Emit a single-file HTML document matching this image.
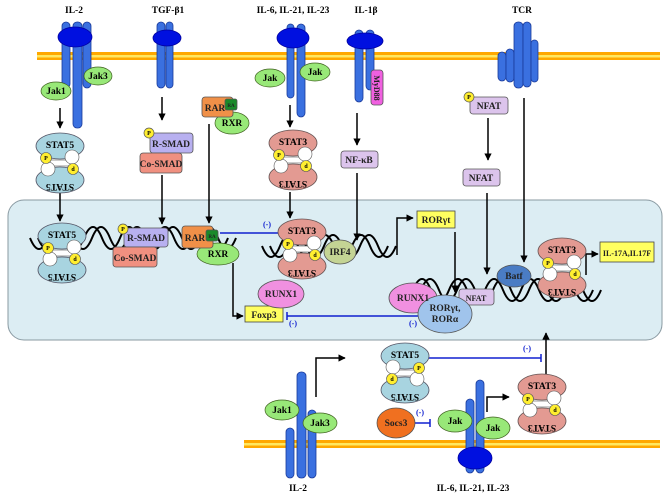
<!DOCTYPE html>
<html><head><meta charset="utf-8"><style>
html,body{margin:0;padding:0;background:#fff}
svg{display:block;font-family:"Liberation Serif",serif;font-weight:bold}
</style></head><body>
<svg width="672" height="498" viewBox="0 0 672 498" xmlns="http://www.w3.org/2000/svg">
<defs>
<marker id="ar" viewBox="0 0 10 10" refX="9" refY="5" markerWidth="5" markerHeight="5" orient="auto"><path d="M0 0L10 5L0 10z" fill="#000"/></marker>
</defs>
<!-- nucleus -->
<rect x="8" y="200" width="654" height="140" rx="16" fill="#dcedf3" stroke="#8a9aa2" stroke-width="1"/>
<!-- membranes -->
<rect x="37" y="52" width="623" height="8" fill="#ffa800"/><rect x="37" y="55" width="623" height="2.5" fill="#ffe860"/>
<rect x="244" y="440" width="416" height="8" fill="#ffa800"/><rect x="244" y="443" width="416" height="2.5" fill="#ffe860"/>

<g font-size="9.5" text-anchor="middle">
<text x="74" y="13">IL-2</text><text x="168" y="13">TGF-β1</text><text x="293" y="13">IL-6, IL-21, IL-23</text><text x="366" y="13">IL-1β</text><text x="522" y="13">TCR</text>
<text x="298" y="491">IL-2</text><text x="473" y="491">IL-6, IL-21, IL-23</text>
</g>

<g fill="#3a70e0" stroke="#1a3a9a" stroke-width="0.8">
<rect x="62" y="22" width="8" height="66" rx="4"/><rect x="73" y="22" width="9" height="106" rx="4"/><rect x="83" y="22" width="8" height="66" rx="4"/>
<rect x="157" y="22" width="8" height="66" rx="4"/><rect x="166" y="22" width="7" height="66" rx="3.5"/>
<rect x="287" y="24" width="7" height="74" rx="3.5"/><rect x="297" y="24" width="8" height="93" rx="4"/>
<rect x="355" y="30" width="8" height="72" rx="4"/><rect x="366" y="30" width="8" height="60" rx="4"/>
<rect x="498" y="52" width="8" height="29" rx="4"/><rect x="506" y="49" width="8" height="33" rx="4"/><rect x="514" y="22" width="9" height="66" rx="4"/><rect x="523" y="22" width="8" height="65" rx="4"/><rect x="531" y="40" width="7" height="42" rx="3.5"/>
<rect x="286" y="428" width="8" height="50" rx="4"/><rect x="297" y="372" width="9" height="106" rx="4"/><rect x="308" y="410" width="8" height="68" rx="4"/>
<rect x="466" y="399" width="8" height="74" rx="4"/><rect x="476" y="380" width="8" height="93" rx="4"/>
</g>
<g fill="#0010e0" stroke="#0000a0" stroke-width="0.8">
<ellipse cx="75" cy="37" rx="17" ry="10"/><ellipse cx="167" cy="38" rx="14" ry="8"/><ellipse cx="293" cy="38" rx="16" ry="10"/><ellipse cx="365" cy="41" rx="18" ry="8"/><ellipse cx="475" cy="458" rx="17" ry="11"/>
</g>

<!-- DNA -->
<g stroke="#000" stroke-width="2" fill="none">
<path d="M30 238q9 22 18 0t18 0t18 0t18 0t18 0t18 0t18 0t18 0t18 0t18 0t18 0"/>
<path d="M38 238q9 22 18 0t18 0t18 0t18 0t18 0t18 0t18 0t18 0t18 0t18 0t18 0"/>
<path d="M262 246q9 22 18 0t18 0t18 0t18 0t18 0t18 0t18 0"/>
<path d="M270 246q9 22 18 0t18 0t18 0t18 0t18 0t18 0t18 0"/>
<path d="M395 290q9 22 18 0t18 0t18 0t18 0t18 0t18 0t18 0t18 0t18 0t18 0t18 0"/>
<path d="M403 290q9 22 18 0t18 0t18 0t18 0t18 0t18 0t18 0t18 0t18 0t18 0t18 0"/>
</g>

<g font-size="9" text-anchor="middle" stroke="#406020" stroke-width="0.7">
<ellipse cx="98" cy="76" rx="14" ry="9" fill="#98e878"/><ellipse cx="56" cy="91" rx="15" ry="9" fill="#98e878"/>
<ellipse cx="270" cy="78" rx="15" ry="9" fill="#98e878"/><ellipse cx="315" cy="72" rx="15" ry="9" fill="#98e878"/>
<ellipse cx="232" cy="123" rx="17" ry="11" fill="#98e878"/>
<ellipse cx="218" cy="254" rx="21" ry="11" fill="#98e878"/>
<ellipse cx="282" cy="410" rx="17" ry="10" fill="#98e878"/><ellipse cx="320" cy="423" rx="17" ry="10" fill="#98e878"/>
<ellipse cx="455" cy="421" rx="17" ry="11" fill="#98e878"/><ellipse cx="493" cy="428" rx="17" ry="11" fill="#98e878"/>
</g>
<g font-size="9.5" text-anchor="middle">
<text x="98" y="79">Jak3</text><text x="56" y="94">Jak1</text><text x="270" y="81">Jak</text><text x="315" y="75">Jak</text>
<text x="232" y="126">RXR</text><text x="218" y="257">RXR</text>
<text x="282" y="413">Jak1</text><text x="320" y="426">Jak3</text><text x="455" y="424">Jak</text><text x="493" y="431">Jak</text>
</g>

<g stroke="#000" stroke-width="1.5" fill="none" marker-end="url(#ar)">
<path d="M60 108V128"/><path d="M162 97V120"/><path d="M290 105V127"/><path d="M357 113V145"/><path d="M488 118V160"/>
<path d="M60 192V221"/><path d="M162 175V224"/><path d="M209 124V223"/><path d="M290 192V218"/><path d="M357 173V240"/>
<path d="M524 98V262"/><path d="M487 193V274"/>
<path d="M233 263V316H243"/><path d="M397 255V218H413"/><path d="M455 232V292"/><path d="M586 275V254H598"/>
<path d="M316 397V358H345"/><path d="M546 385V333"/><path d="M487 412V397H509"/>
</g>
<g stroke="#1020d0" stroke-width="1.5" fill="none">
<path d="M220 233H280M280 229V237"/>
<path d="M420 316H287M287 312V320"/>
<path d="M400 358H541M541 354V362"/>
<path d="M412 423H430M430 419V427"/>
</g>
<g fill="#1020d0" font-size="8" text-anchor="middle">
<text x="267" y="227">(-)</text><text x="293" y="326">(-)</text><text x="413" y="326">(-)</text><text x="527" y="351">(-)</text><text x="420" y="415">(-)</text>
</g>

<g stroke="#555" stroke-width="0.8" font-size="9" text-anchor="middle">
<rect x="150" y="133" width="43" height="20" rx="3" fill="#b8b0f0"/>
<rect x="140" y="153" width="42" height="20" rx="3" fill="#f09080"/>
<rect x="202" y="97" width="31" height="20" rx="3" fill="#f09048"/>
<rect x="225" y="99" width="12" height="11" rx="2" fill="#1a8a2a"/>
<rect x="124" y="228" width="44" height="19" rx="3" fill="#b8b0f0"/>
<rect x="113" y="247" width="44" height="20" rx="3" fill="#f09080"/>
<rect x="182" y="226" width="31" height="22" rx="3" fill="#f09048"/>
<rect x="206" y="230" width="12" height="11" rx="2" fill="#1a8a2a"/>
<rect x="371" y="70" width="12" height="35" rx="3" fill="#f060e0"/>
<rect x="341" y="151" width="37" height="17" rx="3" fill="#dcc4ec"/>
<rect x="470" y="97" width="38" height="17" rx="3" fill="#dcc4ec"/>
<rect x="463" y="169" width="37" height="17" rx="3" fill="#dcc4ec"/>
<rect x="459" y="289" width="35" height="16" rx="3" fill="#dcc4ec"/>
<rect x="245" y="306" width="38" height="16" fill="#ffff60" stroke="#444"/>
<rect x="417" y="211" width="38" height="17" fill="#ffff60" stroke="#444"/>
<rect x="600" y="242" width="54" height="20" fill="#ffff60" stroke="#444"/>
<ellipse cx="281" cy="294" rx="23" ry="14" fill="#f090e0"/>
<ellipse cx="413" cy="298" rx="24" ry="15" fill="#f090e0"/>
<ellipse cx="445" cy="314" rx="27" ry="19" fill="#a0c4ec"/>
<ellipse cx="514" cy="276" rx="17" ry="11" fill="#4a7cc4"/>
<ellipse cx="340" cy="252" rx="16" ry="12" fill="#c4d494"/>
<ellipse cx="396" cy="423" rx="19" ry="15" fill="#f07020"/>
</g>
<g font-size="9.5" text-anchor="middle" fill="#222">
<text x="171" y="147">R-SMAD</text><text x="161" y="167">Co-SMAD</text><text x="215" y="111">RAR</text><text x="231" y="107" font-size="5">RA</text>
<text x="146" y="241">R-SMAD</text><text x="135" y="261">Co-SMAD</text><text x="195" y="241">RAR</text><text x="212" y="238" font-size="5">RA</text>
<text x="377" y="88" transform="rotate(90 377 88)" font-size="8" dy="3">MyD88</text>
<text x="359" y="163">NF-κB</text><text x="489" y="109">NFAT</text><text x="481" y="181">NFAT</text><text x="476" y="301" font-size="8">NFAT</text>
<text x="264" y="318">Foxp3</text><text x="436" y="223">RORγt</text><text x="627" y="256" font-size="8">IL-17A,IL17F</text>
<text x="281" y="297">RUNX1</text><text x="413" y="301">RUNX1</text>
<text x="445" y="311">RORγt,</text><text x="445" y="322">RORα</text>
<text x="514" y="279">Batf</text><text x="340" y="255">IRF4</text><text x="396" y="426">Socs3</text>
</g>
<g stroke="#555" stroke-width="0.7" fill="#ffee30">
<circle cx="149" cy="133" r="5"/><circle cx="123" cy="229" r="5"/><circle cx="469" cy="97" r="5"/>
</g>
<g font-size="6" text-anchor="middle"><text x="149" y="135">P</text><text x="123" y="231">P</text><text x="469" y="99">P</text></g>

<g transform="translate(60 163)">
<ellipse cx="0" cy="-17" rx="24" ry="13" fill="#a8d4e0" stroke="#556" stroke-width="0.8"/>
<ellipse cx="0" cy="17" rx="24" ry="13" fill="#a8d4e0" stroke="#556" stroke-width="0.8"/>
<rect x="-12" y="-3" width="24" height="6" fill="#fff" stroke="#555" stroke-width="0.6"/>
<circle cx="12" cy="-6" r="7" fill="#fff" stroke="#555" stroke-width="0.6"/><circle cx="-12" cy="6" r="7" fill="#fff" stroke="#555" stroke-width="0.6"/>
<circle cx="-14" cy="-5" r="5.5" fill="#ffee30" stroke="#555" stroke-width="0.6"/><circle cx="13" cy="6" r="5.5" fill="#ffee30" stroke="#555" stroke-width="0.6"/>
<text x="-14" y="-3" font-size="6" text-anchor="middle">P</text><text x="13" y="8" font-size="6" text-anchor="middle">d</text>
<text x="0" y="-15" font-size="9.5" text-anchor="middle">STAT5</text><text x="0" y="15" font-size="9.5" text-anchor="middle" transform="rotate(180 0 18)">STAT5</text>
</g>
<g transform="translate(62 253)">
<ellipse cx="0" cy="-17" rx="24" ry="13" fill="#a8d4e0" stroke="#556" stroke-width="0.8"/>
<ellipse cx="0" cy="17" rx="24" ry="13" fill="#a8d4e0" stroke="#556" stroke-width="0.8"/>
<rect x="-12" y="-3" width="24" height="6" fill="#fff" stroke="#555" stroke-width="0.6"/>
<circle cx="12" cy="-6" r="7" fill="#fff" stroke="#555" stroke-width="0.6"/><circle cx="-12" cy="6" r="7" fill="#fff" stroke="#555" stroke-width="0.6"/>
<circle cx="-14" cy="-5" r="5.5" fill="#ffee30" stroke="#555" stroke-width="0.6"/><circle cx="13" cy="6" r="5.5" fill="#ffee30" stroke="#555" stroke-width="0.6"/>
<text x="-14" y="-3" font-size="6" text-anchor="middle">P</text><text x="13" y="8" font-size="6" text-anchor="middle">d</text>
<text x="0" y="-15" font-size="9.5" text-anchor="middle">STAT5</text><text x="0" y="15" font-size="9.5" text-anchor="middle" transform="rotate(180 0 18)">STAT5</text>
</g>
<g transform="translate(293 160)">
<ellipse cx="0" cy="-17" rx="24" ry="13" fill="#e39a92" stroke="#655" stroke-width="0.8"/>
<ellipse cx="0" cy="17" rx="24" ry="13" fill="#e39a92" stroke="#655" stroke-width="0.8"/>
<rect x="-12" y="-3" width="24" height="6" fill="#fff" stroke="#555" stroke-width="0.6"/>
<circle cx="12" cy="-6" r="7" fill="#fff" stroke="#555" stroke-width="0.6"/><circle cx="-12" cy="6" r="7" fill="#fff" stroke="#555" stroke-width="0.6"/>
<circle cx="-14" cy="-5" r="5.5" fill="#ffee30" stroke="#555" stroke-width="0.6"/><circle cx="13" cy="6" r="5.5" fill="#ffee30" stroke="#555" stroke-width="0.6"/>
<text x="-14" y="-3" font-size="6" text-anchor="middle">P</text><text x="13" y="8" font-size="6" text-anchor="middle">d</text>
<text x="0" y="-15" font-size="9.5" text-anchor="middle">STAT3</text><text x="0" y="15" font-size="9.5" text-anchor="middle" transform="rotate(180 0 18)">STAT3</text>
</g>
<g transform="translate(302 249)">
<ellipse cx="0" cy="-17" rx="24" ry="13" fill="#e39a92" stroke="#655" stroke-width="0.8"/>
<ellipse cx="0" cy="17" rx="24" ry="13" fill="#e39a92" stroke="#655" stroke-width="0.8"/>
<rect x="-12" y="-3" width="24" height="6" fill="#fff" stroke="#555" stroke-width="0.6"/>
<circle cx="12" cy="-6" r="7" fill="#fff" stroke="#555" stroke-width="0.6"/><circle cx="-12" cy="6" r="7" fill="#fff" stroke="#555" stroke-width="0.6"/>
<circle cx="-14" cy="-5" r="5.5" fill="#ffee30" stroke="#555" stroke-width="0.6"/><circle cx="13" cy="6" r="5.5" fill="#ffee30" stroke="#555" stroke-width="0.6"/>
<text x="-14" y="-3" font-size="6" text-anchor="middle">P</text><text x="13" y="8" font-size="6" text-anchor="middle">d</text>
<text x="0" y="-15" font-size="9.5" text-anchor="middle">STAT3</text><text x="0" y="15" font-size="9.5" text-anchor="middle" transform="rotate(180 0 18)">STAT3</text>
</g>
<g transform="translate(562 268)">
<ellipse cx="0" cy="-17" rx="24" ry="13" fill="#e39a92" stroke="#655" stroke-width="0.8"/>
<ellipse cx="0" cy="17" rx="24" ry="13" fill="#e39a92" stroke="#655" stroke-width="0.8"/>
<rect x="-12" y="-3" width="24" height="6" fill="#fff" stroke="#555" stroke-width="0.6"/>
<circle cx="12" cy="-6" r="7" fill="#fff" stroke="#555" stroke-width="0.6"/><circle cx="-12" cy="6" r="7" fill="#fff" stroke="#555" stroke-width="0.6"/>
<circle cx="-14" cy="-5" r="5.5" fill="#ffee30" stroke="#555" stroke-width="0.6"/><circle cx="13" cy="6" r="5.5" fill="#ffee30" stroke="#555" stroke-width="0.6"/>
<text x="-14" y="-3" font-size="6" text-anchor="middle">P</text><text x="13" y="8" font-size="6" text-anchor="middle">d</text>
<text x="0" y="-15" font-size="9.5" text-anchor="middle">STAT3</text><text x="0" y="15" font-size="9.5" text-anchor="middle" transform="rotate(180 0 18)">STAT3</text>
</g>
<g transform="translate(405 373)">
<ellipse cx="0" cy="-17" rx="24" ry="13" fill="#a8d4e0" stroke="#556" stroke-width="0.8"/>
<ellipse cx="0" cy="17" rx="24" ry="13" fill="#a8d4e0" stroke="#556" stroke-width="0.8"/>
<rect x="-12" y="-3" width="24" height="6" fill="#fff" stroke="#555" stroke-width="0.6"/>
<circle cx="-12" cy="-6" r="7" fill="#fff" stroke="#555" stroke-width="0.6"/><circle cx="12" cy="6" r="7" fill="#fff" stroke="#555" stroke-width="0.6"/>
<circle cx="14" cy="-5" r="5.5" fill="#ffee30" stroke="#555" stroke-width="0.6"/><circle cx="-13" cy="6" r="5.5" fill="#ffee30" stroke="#555" stroke-width="0.6"/>
<text x="14" y="-3" font-size="6" text-anchor="middle">P</text><text x="-13" y="8" font-size="6" text-anchor="middle">d</text>
<text x="0" y="-15" font-size="9.5" text-anchor="middle">STAT5</text><text x="0" y="15" font-size="9.5" text-anchor="middle" transform="rotate(180 0 18)">STAT5</text>
</g>
<g transform="translate(542 404)">
<ellipse cx="0" cy="-17" rx="24" ry="13" fill="#e39a92" stroke="#655" stroke-width="0.8"/>
<ellipse cx="0" cy="17" rx="24" ry="13" fill="#e39a92" stroke="#655" stroke-width="0.8"/>
<rect x="-12" y="-3" width="24" height="6" fill="#fff" stroke="#555" stroke-width="0.6"/>
<circle cx="12" cy="-6" r="7" fill="#fff" stroke="#555" stroke-width="0.6"/><circle cx="-12" cy="6" r="7" fill="#fff" stroke="#555" stroke-width="0.6"/>
<circle cx="-14" cy="-5" r="5.5" fill="#ffee30" stroke="#555" stroke-width="0.6"/><circle cx="13" cy="6" r="5.5" fill="#ffee30" stroke="#555" stroke-width="0.6"/>
<text x="-14" y="-3" font-size="6" text-anchor="middle">P</text><text x="13" y="8" font-size="6" text-anchor="middle">d</text>
<text x="0" y="-15" font-size="9.5" text-anchor="middle">STAT3</text><text x="0" y="15" font-size="9.5" text-anchor="middle" transform="rotate(180 0 18)">STAT3</text>
</g>
</svg>
</body></html>
